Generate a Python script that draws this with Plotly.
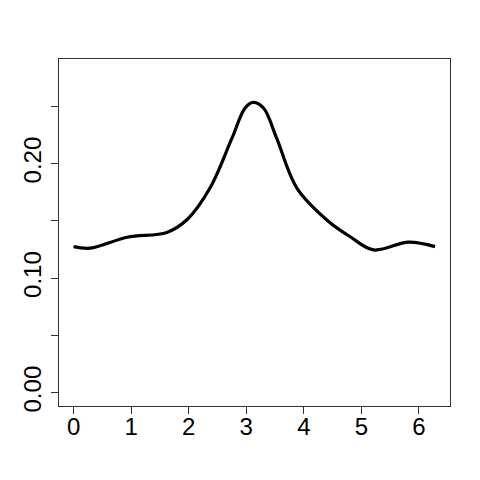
import plotly.graph_objects as go

# density curve
angle = [0.0, 0.29, 0.93, 1.62, 1.97, 2.37, 2.75, 2.98, 3.12, 3.30, 3.53, 3.88,
         4.42, 4.80, 5.21, 5.82, 6.28]
density = [0.1276, 0.1262, 0.1358, 0.140, 0.151, 0.1787, 0.222, 0.2486, 0.2535, 0.2486, 0.222,
           0.1787, 0.150, 0.1364, 0.1247, 0.1315, 0.1276]

y_ticks = [0, 0.05, 0.10, 0.15, 0.20, 0.25]
y_labels = ["0.00", "", "0.10", "", "0.20", ""]
x_ticks = [0, 1, 2, 3, 4, 5, 6]

fig = go.Figure()
fig.add_trace(go.Scatter(
    x=angle, y=density, mode="lines",
    line=dict(color="black", width=3.2, shape="spline", smoothing=1.0),
    hoverinfo="skip",
))

axis_common = dict(
    showgrid=False, zeroline=False, automargin=False,
    showline=True, linecolor="#333", linewidth=1, mirror=True,
    ticks="outside", ticklen=7, tickcolor="#333", tickwidth=1,
    tickfont=dict(family="Liberation Sans, Arial", size=24, color="black"),
)

# page body has an 8px margin, so the figure is a bit smaller than the window
fig.update_layout(
    width=472, height=472,
    paper_bgcolor="white", plot_bgcolor="white",
    margin=dict(l=51, r=30, t=51, b=74),
    showlegend=False,
    xaxis=dict(range=[-0.253, 6.54], tickvals=x_ticks, ticklabelstandoff=-8, **axis_common),
    yaxis=dict(range=[-0.0116, 0.2914], tickvals=y_ticks, ticktext=y_labels,
               tickangle=-90, ticklabelstandoff=0, **axis_common),
)

fig.write_html("out.html")
